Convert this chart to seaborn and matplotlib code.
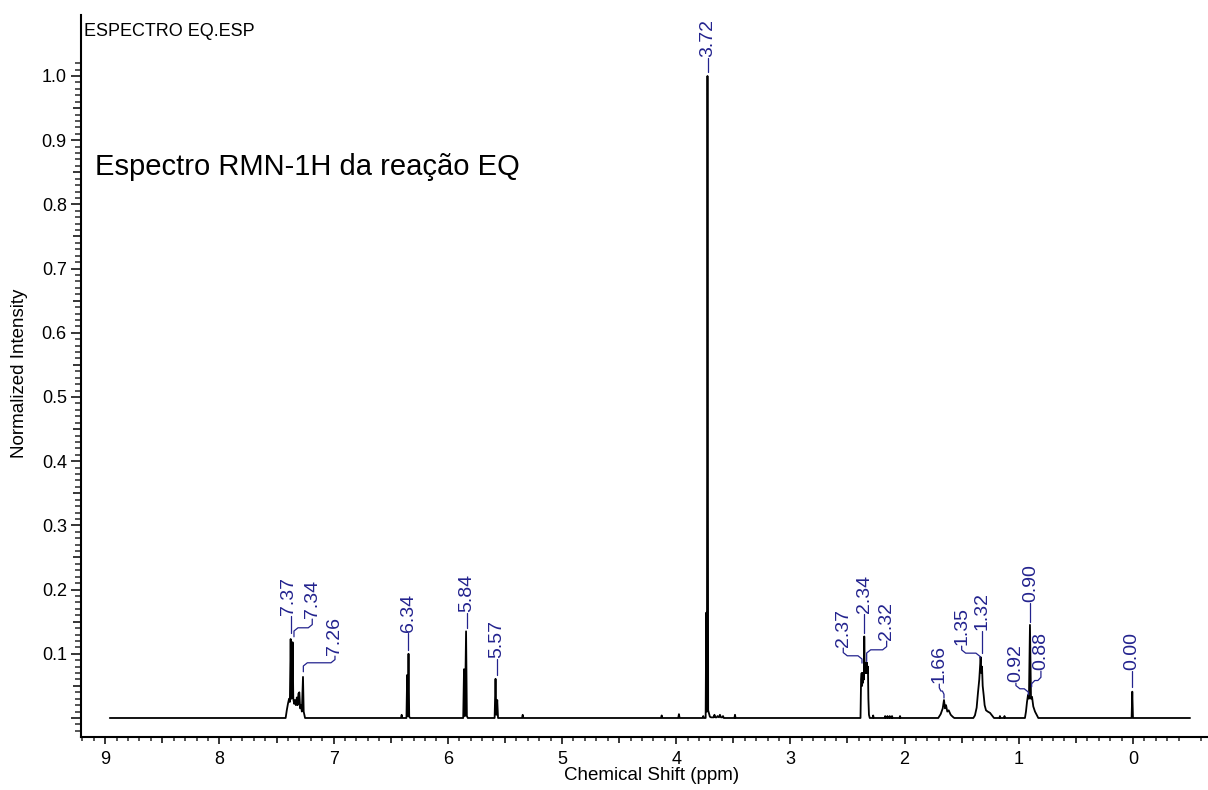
import numpy as np
import pandas as pd
import matplotlib
matplotlib.use("Agg")
import matplotlib.pyplot as plt
from matplotlib.ticker import FixedLocator
import seaborn as sns

# ---------------- data ----------------
# (chemical shift ppm, normalized intensity) vertices of the trace, per signal region
baseline_start = [(8.96, 0.0)]
aromatic = [(7.42, 0.0), (7.41, 0.012), (7.40, 0.022), (7.39, 0.030), (7.383, 0.025),
            (7.376, 0.123), (7.370, 0.030), (7.365, 0.035), (7.359, 0.118), (7.353, 0.030),
            (7.345, 0.022), (7.338, 0.028), (7.330, 0.020), (7.322, 0.032), (7.315, 0.020),
            (7.308, 0.038), (7.300, 0.040), (7.293, 0.015), (7.285, 0.020), (7.278, 0.010),
            (7.268, 0.064), (7.262, 0.010), (7.255, 0.004), (7.25, 0.0)]
vinyl_634 = [(6.410, 0.0), (6.404, 0.005), (6.398, 0.0), (6.362, 0.0), (6.356, 0.067),
             (6.350, 0.003), (6.344, 0.100), (6.338, 0.002), (6.330, 0.0)]
vinyl_584 = [(5.865, 0.0), (5.858, 0.076), (5.850, 0.003), (5.840, 0.135), (5.833, 0.003),
             (5.825, 0.0)]
vinyl_557 = [(5.590, 0.0), (5.582, 0.061), (5.575, 0.005), (5.567, 0.028), (5.560, 0.0),
             (5.350, 0.0), (5.344, 0.005), (5.338, 0.0)]
small_4 = [(4.133, 0.0), (4.127, 0.004), (4.121, 0.0), (3.982, 0.0), (3.976, 0.006),
           (3.970, 0.0)]
methoxy = [(3.770, 0.0), (3.763, 0.003), (3.757, 0.0), (3.742, 0.0), (3.737, 0.164),
           (3.731, 0.010), (3.726, 1.000), (3.720, 0.012), (3.713, 0.007), (3.705, 0.002),
           (3.695, 0.001), (3.672, 0.001), (3.665, 0.005), (3.657, 0.001), (3.645, 0.001),
           (3.638, 0.003), (3.625, 0.001), (3.617, 0.005), (3.608, 0.001), (3.596, 0.001),
           (3.590, 0.003), (3.583, 0.0), (3.490, 0.0), (3.485, 0.005), (3.480, 0.0)]
multiplet_234 = [(2.386, 0.0), (2.381, 0.060), (2.376, 0.070), (2.372, 0.050), (2.368, 0.070),
                 (2.364, 0.055), (2.360, 0.070), (2.356, 0.060), (2.353, 0.127), (2.349, 0.070),
                 (2.345, 0.086), (2.341, 0.070), (2.337, 0.086), (2.333, 0.070), (2.329, 0.086),
                 (2.325, 0.070), (2.321, 0.080), (2.317, 0.030), (2.312, 0.005), (2.305, 0.0),
                 (2.280, 0.0), (2.275, 0.004), (2.270, 0.0), (2.175, 0.0), (2.170, 0.003),
                 (2.165, 0.0), (2.155, 0.0), (2.150, 0.003), (2.145, 0.0), (2.135, 0.0),
                 (2.130, 0.003), (2.125, 0.0), (2.115, 0.0), (2.110, 0.003), (2.105, 0.0),
                 (2.045, 0.0), (2.040, 0.003), (2.035, 0.0)]
multiplet_166 = [(1.705, 0.0), (1.684, 0.006), (1.666, 0.015), (1.655, 0.028), (1.646, 0.015),
                 (1.637, 0.020), (1.626, 0.010), (1.614, 0.012), (1.596, 0.005), (1.579, 0.002),
                 (1.565, 0.0)]
multiplet_132 = [(1.398, 0.0), (1.384, 0.004), (1.369, 0.016), (1.357, 0.040), (1.346, 0.060),
                 (1.334, 0.095), (1.328, 0.070), (1.322, 0.080), (1.316, 0.050), (1.307, 0.035),
                 (1.299, 0.020), (1.287, 0.012), (1.272, 0.010), (1.252, 0.008), (1.235, 0.004),
                 (1.217, 0.0), (1.170, 0.0), (1.165, 0.003), (1.160, 0.0), (1.130, 0.0),
                 (1.125, 0.003), (1.120, 0.0)]
multiplet_090 = [(0.946, 0.0), (0.937, 0.010), (0.928, 0.025), (0.919, 0.036), (0.911, 0.030),
                 (0.902, 0.145), (0.893, 0.030), (0.884, 0.033), (0.873, 0.018), (0.858, 0.010),
                 (0.841, 0.004), (0.829, 0.0)]
tms = [(0.012, 0.0), (0.006, 0.041), (0.000, 0.0)]
baseline_end = [(-0.50, 0.0)]

# peak annotations: label text, peak position (ppm)
peak_labels = ["7.37", "7.34", "7.26", "6.34", "5.84", "5.57", "3.72", "2.37", "2.34",
               "2.32", "1.66", "1.35", "1.32", "0.92", "0.90", "0.88", "0.00"]
peak_ppm = [7.376, 7.347, 7.265, 6.346, 5.835, 5.572, 3.722, 2.373, 2.355,
            2.332, 1.655, 1.340, 1.325, 0.917, 0.902, 0.887, 0.006]

x_tick_values = [9, 8, 7, 6, 5, 4, 3, 2, 1, 0]
y_tick_values = [0.1, 0.2, 0.3, 0.4, 0.5, 0.6, 0.7, 0.8, 0.9, 1.0]

# ---------------- layout of annotations (text x, text bottom, elbow level, line end) ----
label_layout = [
    (7.395, 0.1607, None, 0.1327),
    (7.187, 0.1561, 0.1405, 0.1265),
    (6.988, 0.0984, 0.0860, 0.0720),
    (6.346, 0.1343, None, 0.1062),
    (5.835, 0.1654, None, 0.1405),
    (5.572, 0.0938, None, 0.0673),
    (3.722, 1.0300, None, 1.0065),
    (2.537, 0.1109, 0.0969, 0.0855),
    (2.355, 0.1639, None, 0.1327),
    (2.157, 0.1218, 0.1062, 0.0880),
    (1.696, 0.0548, 0.0420, 0.0310),
    (1.500, 0.1140, 0.1010, 0.0933),
    (1.325, 0.1374, None, 0.1016),
    (1.025, 0.0564, 0.0455, 0.0361),
    (0.893, 0.1810, None, 0.1498),
    (0.806, 0.0751, 0.0584, 0.0486),
    (0.011, 0.0751, None, 0.0486),
]

# ---------------- figure ----------------
sns.set_style("ticks")
plt.rcParams["font.family"] = ["Liberation Sans", "DejaVu Sans"]

BLUE = "#23238e"
fig = plt.figure(figsize=(12.08, 7.90), dpi=100)
ax = fig.add_axes([81 / 1208, 1 - 737 / 790, 1 - 81 / 1208, (737 - 15) / 790])

pts = (baseline_start + aromatic + vinyl_634 + vinyl_584 + vinyl_557 + small_4 + methoxy
       + multiplet_234 + multiplet_166 + multiplet_132 + multiplet_090 + tms + baseline_end)
df = pd.DataFrame(pts, columns=["ppm", "intensity"])
sns.lineplot(data=df, x="ppm", y="intensity", sort=False, estimator=None,
             color="black", linewidth=1.3, ax=ax)

ax.set_xlim(9.212, -0.657)
ax.set_ylim(-0.0296, 1.095)
sns.despine(ax=ax)
for s in ("left", "bottom"):
    ax.spines[s].set_linewidth(1.5)
    ax.spines[s].set_color("black")

# x ticks: majors every 0.5 (labels on integers), minors every 0.1
x_major = [v / 2 for v in range(0, 19)]
ax.xaxis.set_major_locator(FixedLocator(x_major))
ax.set_xticklabels([str(int(v)) if v in x_tick_values else "" for v in x_major])
x_minor = [round(-0.6 + 0.1 * i, 2) for i in range(0, 99)]
x_minor = [v for v in x_minor if abs(v * 2 - round(v * 2)) > 1e-6]
ax.xaxis.set_minor_locator(FixedLocator(x_minor))

# y ticks: majors every 0.05 (labels on tenths), minors every 0.01
y_major = [round(0.05 * i, 2) for i in range(0, 21)]
ax.yaxis.set_major_locator(FixedLocator(y_major))
ax.set_yticklabels([f"{v:.1f}" if any(abs(v - t) < 1e-6 for t in y_tick_values) else ""
                    for v in y_major])
y_minor = [round(-0.02 + 0.01 * i, 2) for i in range(0, 105)]
y_minor = [v for v in y_minor if abs(v * 20 - round(v * 20)) > 1e-6]
ax.yaxis.set_minor_locator(FixedLocator(y_minor))

ax.tick_params(axis="x", which="major", direction="out", length=5.0, width=1.1,
               pad=5, labelsize=13, colors="black")
ax.tick_params(axis="x", which="minor", direction="out", length=2.9, width=1.1)
ax.tick_params(axis="y", which="major", direction="out", length=7.2, width=1.1,
               pad=3, labelsize=13, colors="black")
ax.tick_params(axis="y", which="minor", direction="out", length=4.3, width=1.1)

for v, t in zip(x_major, ax.xaxis.get_major_ticks()):
    if v not in x_tick_values:
        t.tick1line.set_markersize(4.3)
for v, t in zip(y_major, ax.yaxis.get_major_ticks()):
    if abs(v * 10 - round(v * 10)) > 1e-6:
        t.tick1line.set_markersize(5.8)

ax.set_xlabel("")
ax.set_ylabel("")

# peak annotations
for text, pk, (tx, tb, yh, pe) in zip(peak_labels, peak_ppm, label_layout):
    ax.text(tx, tb, text, rotation=90, ha="center", va="bottom", color=BLUE, fontsize=14)
    gap = 0.002
    if yh is None:
        xs, ys = [pk, pk], [tb - gap, pe]
    else:
        sgn = np.sign(pk - tx)
        dx = min(0.035, abs(pk - tx) / 3)
        e = 0.005
        xs = [tx, tx, tx + sgn * dx, pk - sgn * dx, pk, pk]
        ys = [tb - gap, yh + e, yh, yh, yh - e, pe]
    ax.plot(xs, ys, color=BLUE, linewidth=0.9)

# texts
fig.text(84 / 1208, 1 - 36 / 790, "ESPECTRO EQ.ESP", fontsize=13, ha="left",
         va="baseline", color="black")
fig.text(95 / 1208, 1 - 175 / 790, "Espectro RMN-1H da reação EQ", fontsize=21,
         ha="left", va="baseline", color="black")
fig.text(20 / 1208, 1 - 373 / 790, "Normalized Intensity", fontsize=13.5, rotation=90,
         ha="center", va="center", color="black")
fig.text(652 / 1208, 1 - 775 / 790, "Chemical Shift (ppm)", fontsize=13.5,
         ha="center", va="center", color="black")

fig.savefig("out.png", dpi=100, facecolor="white")
